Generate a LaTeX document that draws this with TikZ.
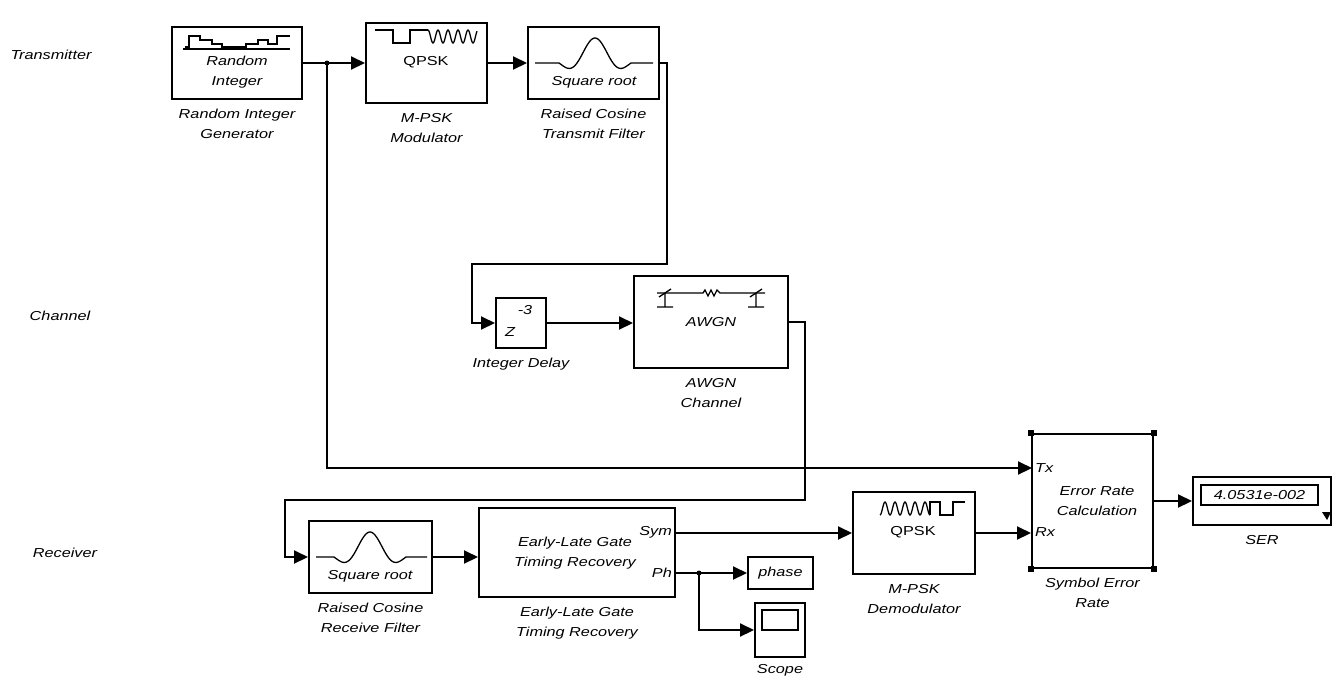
\documentclass[tikz,border=0pt]{standalone}
\usepackage{fontspec}
\setmainfont{Liberation Sans}[FakeStretch=1.25]
\usepackage{tikz}
\usetikzlibrary{arrows.meta, positioning, calc}

% raised cosine pulse: centre x, baseline y, left x, right x
\newcommand{\pulseicon}[4]{%
  \draw[icon] (#3,#2) -- (#1-36,#2)
    -- plot[domain=-35.5:35.5, samples=72] ({#1+\x},{#2-25*sin(10*\x)/(0.174533*\x)})
    -- (#1+36,#2) -- (#4,#2);}

\begin{document}
\begin{tikzpicture}[
        x=1pt, y=-1pt,
        font=\fontsize{13}{20}\selectfont\itshape,
        blk/.style={draw, rectangle, line width=2pt, inner sep=0pt, fill=white},
        wire/.style={-{Triangle[length=14pt,width=13pt]}, line width=2pt},
        icon/.style={line width=1.3pt},
        lbl/.style={align=center, inner sep=0pt, below=9pt of #1},
        txt/.style={align=center, inner sep=0pt}
    ]
        \fill[white] (0,0) rectangle (1332,675);
        \useasboundingbox (0,0) rectangle (1332,675);

        % Section names
        \node[txt] (txsec) at (51,55) {Transmitter};
        \node[txt] (chsec) at (60,316) {Channel};
        \node[txt] (rxsec) at (65,553) {Receiver};

        % Transmitter
        \node[blk, minimum width=130pt, minimum height=72pt] (rig) at (237,63) {};
        \node[blk, minimum width=121pt, minimum height=80pt] (mod) at (426.5,63) {};
        \node[blk, minimum width=131pt, minimum height=72pt] (txf) at (593.5,63) {};

        % Channel
        \node[blk, minimum width=50pt, minimum height=50pt] (dly) at (521,323) {};
        \node[blk, minimum width=154pt, minimum height=92pt] (awgn) at (711,322) {};

        % Receiver
        \node[blk, minimum width=123pt, minimum height=72pt] (rxf) at (370.5,557) {};
        \node[blk, minimum width=196pt, minimum height=89pt] (elg) at (577,552.5) {};
        \node[blk, minimum width=65pt, minimum height=32pt] (phase) at (780.5,573) {phase};
        \node[blk, minimum width=50pt, minimum height=54pt] (scope) at (780,630) {};
        \node[blk, minimum width=122pt, minimum height=82pt] (dem) at (914,533) {};
        \node[blk, minimum width=121pt, minimum height=134pt] (err) at (1092.5,501) {};
        \node[blk, minimum width=138pt, minimum height=48pt] (ser) at (1262,501) {};

        % Block texts
        \node[txt] (rigtxt) at (237,72) {Random\\Integer};
        \node[txt] (modtxt) at (426,62) {\upshape QPSK};
        \node[txt] (txftxt) at (594,82) {Square root};
        \node[txt] (dlyexp) at (525,310) {-3};
        \node[txt] (dlyz) at (510,332) {Z};
        \node[txt] (awgntxt) at (711,322) {AWGN};
        \node[txt] (rxftxt) at (370,576) {Square root};
        \node[txt] (elgtxt) at (575,553) {Early-Late Gate\\Timing Recovery};
        \node[txt, anchor=east] (symport) at (672,532) {Sym};
        \node[txt, anchor=east] (phport) at (672,573) {Ph};
        \node[txt] (demtxt) at (913,532) {\upshape QPSK};
        \node[txt] (errtxt) at (1097,501) {Error Rate\\Calculation};
        \node[txt, anchor=west] (txport) at (1035,468) {Tx};
        \node[txt, anchor=west] (rxport) at (1035,532) {Rx};
        \node[draw, line width=1.5pt, minimum width=117pt, minimum height=20pt, inner sep=0pt] (serval) at (1259.5,495) {4.0531e-002};
        \node[draw, line width=1.5pt, minimum width=36pt, minimum height=20pt] (screen) at (780,620) {};

        % Block labels
        \node[lbl=rig] (riglbl) {Random Integer\\Generator};
        \node[lbl=mod] (modlbl) {M-PSK\\Modulator};
        \node[lbl=txf] (txflbl) {Raised Cosine\\Transmit Filter};
        \node[lbl=dly] (dlylbl) {Integer Delay};
        \node[lbl=awgn] (awgnlbl) {AWGN\\Channel};
        \node[lbl=rxf] (rxflbl) {Raised Cosine\\Receive Filter};
        \node[lbl=elg] (elglbl) {Early-Late Gate\\Timing Recovery};
        \node[lbl=scope, below=6pt of scope] (scopelbl) {Scope};
        \node[lbl=dem] (demlbl) {M-PSK\\Demodulator};
        \node[lbl=err] (errlbl) {Symbol Error\\Rate};
        \node[lbl=ser] (serlbl) {SER};

        % Icons
        \draw[line width=2pt] (183,49) -- (290,49);
        \draw[icon] (185,47) -- (189,47) -- (189,36) -- (200,36) -- (200,40) -- (212,40) -- (212,44)
            -- (222,44) -- (222,47) -- (246,47) -- (246,44) -- (258,44) -- (258,40) -- (268,40)
            -- (268,44) -- (277,44) -- (277,36) -- (290,36);
        \draw[icon] (375,30) -- (393,30) -- (393,43) -- (410,43) -- (410,30) -- (428,30);
        \draw[icon] plot[domain=0:49, samples=100] ({428+\x},{36.5-6.5*cos(\x*36)});
        \pulseicon{595}{63}{535}{653}
        \pulseicon{370}{557}{316}{427}
        \draw[icon] (657,293) -- (703,293) -- (705,290) -- (708,296) -- (711,290) -- (714,296)
            -- (717,290) -- (720,293) -- (765,293);
        \draw[icon] (665,293) -- (665,307) (657,307) -- (673,307) (659,297) -- (671,289);
        \draw[icon] (756,293) -- (756,307) (748,307) -- (764,307) (750,297) -- (762,289);
        \draw[icon] plot[domain=0:50, samples=100] ({880+\x},{508.5+6.5*cos(\x*36)});
        \draw[icon] (930,515) -- (930,502) -- (940,502) -- (940,515) -- (953,515) -- (953,502) -- (965,502);
        \foreach \c in {north west, north east, south west, south east}
            \fill (err.\c) ++(-3,-3) rectangle ++(6,6);
        \fill (1322,512) -- (1331,512) -- (1327,520) -- cycle;

        % Signal lines
        \coordinate (br1) at (327,63);
        \coordinate (tfout) at (667,264);
        \coordinate (dlyin) at (472,264);
        \coordinate (chout) at (805,500);
        \coordinate (rxin) at (285,500);
        \coordinate (phout) at (675,573);
        \coordinate (phdot) at (699,573);
        \coordinate (txin) at (1032,468);

        \draw[wire] (rig.east) -- (rig.east -| mod.west);
        \draw[wire] (mod.east) -- (mod.east -| txf.west);
        \draw[wire] (txf.east) -| (tfout) -- (dlyin) |- (dly.west);
        \draw[wire] (dly.east) -- (dly.east -| awgn.west);
        \draw[wire] (awgn.east) -| (chout) -- (rxin) |- (rxf.west);
        \draw[wire] (br1) |- (txin);
        \draw[wire] (rxf.east) -- (rxf.east -| elg.west);
        \draw[wire] (elg.east |- dem.west) -- (dem.west);
        \draw[wire] (phout) -- (phase.west);
        \draw[wire] (phdot) |- (scope.west);
        \draw[wire] (dem.east) -- (dem.east -| err.west);
        \draw[wire] (err.east) -- (err.east -| ser.west);
        \fill (br1) circle (2.5pt);
        \fill (phdot) circle (2.5pt);

    \end{tikzpicture}
\end{document}
